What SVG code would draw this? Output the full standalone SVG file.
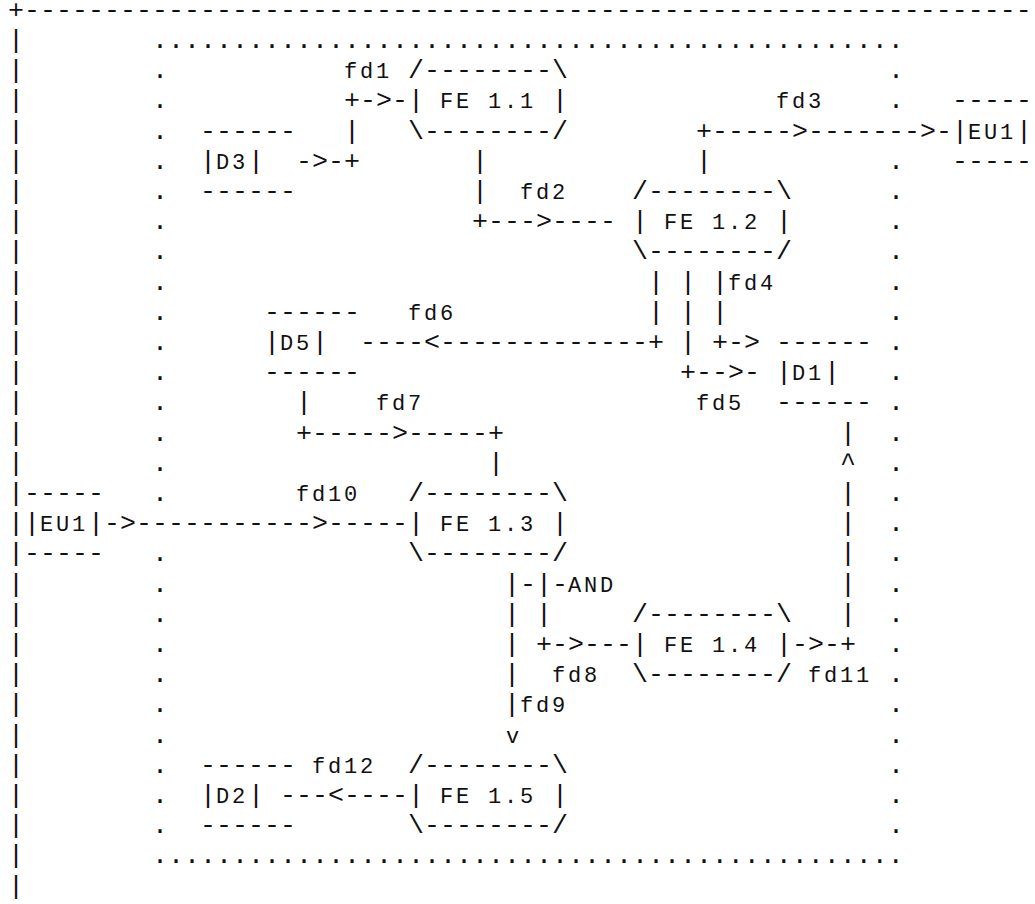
<svg xmlns="http://www.w3.org/2000/svg" width="1035" height="904" viewBox="0 0 1035 904">
<style>
text{font-family:"Liberation Mono","Courier New",monospace;font-size:26.66px;fill:#111;white-space:pre}
text.t{font-size:22px;letter-spacing:2.8px}
</style>
<rect width="1035" height="904" fill="#fff"/>
<g id="frame">
<text x="8" y="17.8">+---------------------------------------------------------------</text>
<text><tspan x="8" y="48">|</tspan><tspan x="8" y="78.2">|</tspan><tspan x="8" y="108.4">|</tspan><tspan x="8" y="138.6">|</tspan><tspan x="8" y="168.8">|</tspan><tspan x="8" y="199">|</tspan><tspan x="8" y="229.2">|</tspan><tspan x="8" y="259.4">|</tspan><tspan x="8" y="289.6">|</tspan><tspan x="8" y="319.8">|</tspan><tspan x="8" y="350">|</tspan><tspan x="8" y="380.2">|</tspan><tspan x="8" y="410.4">|</tspan><tspan x="8" y="440.6">|</tspan><tspan x="8" y="470.8">|</tspan><tspan x="8" y="501">|</tspan><tspan x="8" y="531.2">|</tspan><tspan x="8" y="561.4">|</tspan><tspan x="8" y="591.6">|</tspan><tspan x="8" y="621.8">|</tspan><tspan x="8" y="652">|</tspan><tspan x="8" y="682.2">|</tspan><tspan x="8" y="712.4">|</tspan><tspan x="8" y="742.6">|</tspan><tspan x="8" y="772.8">|</tspan><tspan x="8" y="803">|</tspan><tspan x="8" y="833.2">|</tspan><tspan x="8" y="863.4">|</tspan><tspan x="8" y="893.6">|</tspan></text>
</g>
<g id="boundary">
<text x="152" y="48">...............................................</text>
<text x="152" y="863.4">...............................................</text>
<text><tspan x="152" y="78.2">.</tspan><tspan x="152" y="108.4">.</tspan><tspan x="152" y="138.6">.</tspan><tspan x="152" y="168.8">.</tspan><tspan x="152" y="199">.</tspan><tspan x="152" y="229.2">.</tspan><tspan x="152" y="259.4">.</tspan><tspan x="152" y="289.6">.</tspan><tspan x="152" y="319.8">.</tspan><tspan x="152" y="350">.</tspan><tspan x="152" y="380.2">.</tspan><tspan x="152" y="410.4">.</tspan><tspan x="152" y="440.6">.</tspan><tspan x="152" y="470.8">.</tspan><tspan x="152" y="501">.</tspan><tspan x="152" y="561.4">.</tspan><tspan x="152" y="591.6">.</tspan><tspan x="152" y="621.8">.</tspan><tspan x="152" y="652">.</tspan><tspan x="152" y="682.2">.</tspan><tspan x="152" y="712.4">.</tspan><tspan x="152" y="742.6">.</tspan><tspan x="152" y="772.8">.</tspan><tspan x="152" y="803">.</tspan><tspan x="152" y="833.2">.</tspan></text>
<text><tspan x="888" y="78.2">.</tspan><tspan x="888" y="108.4">.</tspan><tspan x="888" y="168.8">.</tspan><tspan x="888" y="199">.</tspan><tspan x="888" y="229.2">.</tspan><tspan x="888" y="259.4">.</tspan><tspan x="888" y="289.6">.</tspan><tspan x="888" y="319.8">.</tspan><tspan x="888" y="350">.</tspan><tspan x="888" y="380.2">.</tspan><tspan x="888" y="410.4">.</tspan><tspan x="888" y="440.6">.</tspan><tspan x="888" y="470.8">.</tspan><tspan x="888" y="501">.</tspan><tspan x="888" y="531.2">.</tspan><tspan x="888" y="561.4">.</tspan><tspan x="888" y="591.6">.</tspan><tspan x="888" y="621.8">.</tspan><tspan x="888" y="652">.</tspan><tspan x="888" y="682.2">.</tspan><tspan x="888" y="712.4">.</tspan><tspan x="888" y="742.6">.</tspan><tspan x="888" y="772.8">.</tspan><tspan x="888" y="803">.</tspan><tspan x="888" y="833.2">.</tspan></text>
</g>
<g id="D3">
<text x="200" y="138.6">------</text>
<text x="200" y="168.8">|</text><text class="t" x="216" y="168.8">D3</text><text x="248" y="168.8">|</text>
<text x="200" y="199">------</text>
</g>
<g id="FE1.1">
<text x="408" y="78.2">/--------\</text>
<text x="408" y="108.4">|</text><text class="t" x="440" y="108.4">FE 1.1</text><text x="552" y="108.4">|</text>
<text x="408" y="138.6">\--------/</text>
</g>
<g id="EU1-right">
<text x="952" y="108.4">-----</text>
<text x="952" y="138.6">|</text><text class="t" x="968" y="138.6">EU1</text><text x="1016" y="138.6">|</text>
<text x="952" y="168.8">-----</text>
</g>
<g id="FE1.2">
<text x="632" y="199">/--------\</text>
<text x="632" y="229.2">|</text><text class="t" x="664" y="229.2">FE 1.2</text><text x="776" y="229.2">|</text>
<text x="632" y="259.4">\--------/</text>
</g>
<g id="D5">
<text x="264" y="319.8">------</text>
<text x="264" y="350">|</text><text class="t" x="280" y="350">D5</text><text x="312" y="350">|</text>
<text x="264" y="380.2">------</text>
</g>
<g id="D1">
<text x="776" y="350">------</text>
<text x="776" y="380.2">|</text><text class="t" x="792" y="380.2">D1</text><text x="824" y="380.2">|</text>
<text x="776" y="410.4">------</text>
</g>
<g id="EU1-left">
<text x="24" y="501">-----</text>
<text x="24" y="531.2">|</text><text class="t" x="40" y="531.2">EU1</text><text x="88" y="531.2">|</text>
<text x="24" y="561.4">-----</text>
</g>
<g id="FE1.3">
<text x="408" y="501">/--------\</text>
<text x="408" y="531.2">|</text><text class="t" x="440" y="531.2">FE 1.3</text><text x="552" y="531.2">|</text>
<text x="408" y="561.4">\--------/</text>
</g>
<g id="FE1.4">
<text x="632" y="621.8">/--------\</text>
<text x="632" y="652">|</text><text class="t" x="664" y="652">FE 1.4</text><text x="776" y="652">|</text>
<text x="632" y="682.2">\--------/</text>
</g>
<g id="FE1.5">
<text x="408" y="772.8">/--------\</text>
<text x="408" y="803">|</text><text class="t" x="440" y="803">FE 1.5</text><text x="552" y="803">|</text>
<text x="408" y="833.2">\--------/</text>
</g>
<g id="D2">
<text x="200" y="772.8">------</text>
<text x="200" y="803">|</text><text class="t" x="216" y="803">D2</text><text x="248" y="803">|</text>
<text x="200" y="833.2">------</text>
</g>
<g id="connectors">
<text x="344" y="108.4">+-&gt;-</text>
<text x="344" y="138.6">|</text>
<text x="296" y="168.8">-&gt;-+</text>
<text x="472" y="168.8">|</text>
<text x="472" y="199">|</text>
<text x="472" y="229.2">+---&gt;----</text>
<text x="696" y="138.6">+-----&gt;-------&gt;-</text>
<text x="696" y="168.8">|</text>
<text x="712" y="289.6">|</text>
<text x="712" y="319.8">|</text>
<text x="712" y="350">+-&gt;</text>
<text x="680" y="289.6">|</text>
<text x="680" y="319.8">|</text>
<text x="680" y="350">|</text>
<text x="680" y="380.2">+--&gt;-</text>
<text x="648" y="289.6">|</text>
<text x="648" y="319.8">|</text>
<text x="360" y="350">----&lt;-------------+</text>
<text x="296" y="410.4">|</text>
<text x="296" y="440.6">+-----&gt;-----+</text>
<text x="488" y="470.8">|</text>
<text x="104" y="531.2">-&gt;-----------&gt;-----</text>
<text x="504" y="591.6">|-|-</text>
<text x="536" y="621.8">|</text>
<text x="536" y="652">+-&gt;---</text>
<text x="504" y="621.8">|</text>
<text x="504" y="652">|</text>
<text x="504" y="682.2">|</text>
<text x="504" y="712.4">|</text>
<text class="t" x="506" y="742.6">v</text>
<text x="792" y="652">-&gt;-+</text>
<text x="840" y="621.8">|</text>
<text x="840" y="591.6">|</text>
<text x="840" y="561.4">|</text>
<text x="840" y="531.2">|</text>
<text x="840" y="501">|</text>
<text x="840" y="470.8">^</text>
<text x="840" y="440.6">|</text>
<text x="280" y="803">---&lt;----</text>
</g>
<g id="labels">
<text class="t" x="344" y="78.2">fd1</text>
<text class="t" x="776" y="108.4">fd3</text>
<text class="t" x="520" y="199">fd2</text>
<text class="t" x="728" y="289.6">fd4</text>
<text class="t" x="408" y="319.8">fd6</text>
<text class="t" x="376" y="410.4">fd7</text>
<text class="t" x="696" y="410.4">fd5</text>
<text class="t" x="296" y="501">fd10</text>
<text class="t" x="568" y="591.6">AND</text>
<text class="t" x="552" y="682.2">fd8</text>
<text class="t" x="808" y="682.2">fd11</text>
<text class="t" x="520" y="712.4">fd9</text>
<text class="t" x="312" y="772.8">fd12</text>
</g>
</svg>
